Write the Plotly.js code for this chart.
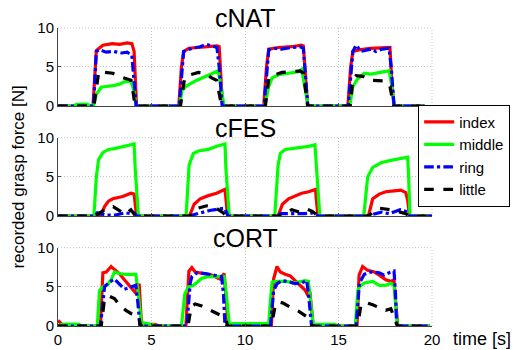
<!DOCTYPE html>
<html>
<head>
<meta charset="utf-8">
<script src="https://cdn.plot.ly/plotly-3.0.1.min.js"></script>
<style>html,body{margin:0;padding:0;background:#fff;}#chart{width:522px;height:350px;}</style>
</head>
<body>
<div id="chart"></div>
<script>
// ---- labels ----
var panelTitles = ["cNAT", "cFES", "cORT"];
var fingerNames = ["index", "middle", "ring", "little"];
var xTicks = [0, 5, 10, 15, 20];
var yTicks = [0, 5, 10];

// ---- cNAT ----
var natIdxT = [0,1.87,2.05,2.4,2.9,3.3,3.7,3.95,4.07,4.2, 6.46,6.6,6.72,7.0,7.5,8.0,8.5,8.62,8.72,8.8, 11.0,11.15,11.27,11.8,12.5,13.0,13.12,13.25,13.35, 15.5,15.65,15.77,16.1,16.7,17.4,17.75,17.85,17.97, 19.6];
var natIdxY = [0,0,7.1,7.8,8.0,7.9,8.1,8.0,7.0,0, 0,5,7.0,7.4,7.5,7.6,7.7,7.6,3,0, 0,5,7.3,7.5,7.6,7.8,7.7,3,0, 0,5,7.0,7.2,7.4,7.5,7.5,3,0, 0];
var natMidT = [0,0.8,1.0,1.5,1.7,1.9,2.05,2.31,2.58,2.95,3.28,3.55,3.9,4.05,4.18, 6.5,6.63,6.89,7.34,7.7,8.04,8.4,8.57,8.68,8.88, 11.06,11.27,11.45,11.8,12.33,12.86,13.03,13.15,13.38, 15.6,15.77,16.03,16.38,16.74,17.09,17.44,17.71,17.82,17.98, 19.6];
var natMidY = [0,0,0.2,0.25,0.1,0,1.5,2.4,2.5,2.6,2.8,3.1,3.2,2,0, 0,2.0,2.6,3.2,3.6,4.0,4.3,4.5,3,0, 0,2.5,3.6,4.0,4.2,4.4,4.7,3,0, 0,2.5,3.5,4.2,4.1,4.3,4.4,4.5,3,0, 0];
var natRingT = [0,1.9,2.05,2.22,2.58,2.95,3.4,3.7,3.95,4.08,4.18, 6.48,6.6,6.72,7.16,7.6,7.95,8.31,8.5,8.62,8.78, 11.02,11.15,11.27,11.6,11.95,12.5,12.95,13.12,13.25,13.36, 15.52,15.65,15.77,15.94,16.2,16.74,17.0,17.35,17.7,17.82,17.97, 19.6];
var natRingY = [0,0,7.0,7.2,6.9,7.0,6.8,6.9,6.5,3,0, 0,4,7.0,7.4,7.6,7.9,7.7,7.5,5,0, 0,4,7.2,7.4,7.3,7.5,7.6,7.4,3,0, 0,4,7.0,7.8,7.0,7.3,7.0,7.3,7.4,5,0, 0];
var natLitT = [0,1.92,2.18,2.58,2.93,3.28,3.63,3.9,4.0,4.12, 6.55,6.77,7.05,7.51,7.86,8.22,8.48,8.6,8.75, 11.09,11.27,11.45,11.98,12.5,12.95,13.12,13.35, 15.63,15.77,15.94,16.3,16.65,17.09,17.53,17.75,17.95, 19.6];
var natLitY = [0,0,4.4,4.3,4.2,3.8,3.5,3.3,2,0, 0,3.5,4.0,4.3,4.2,3.6,3.3,2,0, 0,3.5,3.9,4.3,4.4,4.5,4.2,0, 0,3.5,3.9,3.8,3.3,3.2,3.2,2.5,0, 0];

// ---- cFES ----
var fesIdxT = [0,2.27,2.49,2.7,2.93,3.2,3.46,3.9,4.07,4.2, 7.03,7.28,7.6,8.04,8.48,8.93,8.98,9.07, 11.77,12.0,12.33,12.68,13.03,13.4,13.77,13.82,13.9, 16.6,16.83,17.18,17.53,17.97,18.33,18.6,18.7,18.8, 20];
var fesIdxY = [0,0,1.2,1.9,2.2,2.3,2.5,2.9,2.8,0, 0,1.5,2.2,2.6,2.9,3.4,2.0,0, 0,1.5,2.2,2.6,2.9,3.1,3.4,2.0,0, 0,2.2,2.8,3.1,3.2,3.3,3.0,2.0,0, 0];
var fesMidT = [0,1.92,2.05,2.17,2.4,2.7,3.02,3.37,3.72,4.07,4.13,4.3, 6.85,7.01,7.24,7.51,8.04,8.48,8.93,8.98,9.16, 11.59,11.77,11.89,12.15,12.86,13.4,13.74,13.83,14.0, 16.35,16.56,16.83,17.27,17.8,18.33,18.7,18.75,18.82, 20];
var fesMidY = [0,0,5,7.2,8.1,8.5,8.6,8.8,9.0,9.2,6,0, 0,6.5,8.0,8.3,8.5,8.9,9.2,6,0, 0,6.5,8.0,8.5,8.7,8.9,9.1,6,0, 0,5.0,6.2,6.8,7.1,7.3,7.5,5,0, 0];
var fesRingT = [0,1.95,2.1,2.3,2.6,3.0,3.3,3.6,3.9,4.07,4.2, 7.0,7.3,7.6,8.1,8.6,8.9,9.1, 11.7,11.9,12.3,12.7,13.2,13.6,13.9, 16.5,16.8,17.3,17.7,18.3,18.6,18.8, 20];
var fesRingY = [0,0,0.4,0.3,0.1,0.1,0.3,0.4,0.3,0.4,0, 0,0.2,0.4,0.7,0.9,1.0,0, 0,0.3,0.3,0.2,0.3,0.4,0, 0,0.2,0.5,0.3,0.8,0.6,0, 0];
var fesLitT = [0,2.0,2.3,2.6,2.95,3.3,3.6,3.9,4.15, 7.05,7.3,7.5,7.95,8.4,8.84,9.0, 11.8,12.1,12.5,12.9,13.3,13.6,13.9, 16.6,16.9,17.2,17.8,18.3,18.6,18.8, 20];
var fesLitY = [0,0,0.5,1.0,1.2,0.6,0.2,0.8,0, 0,0.7,1.0,1.3,1.1,0.4,0, 0,0.3,0.8,0.5,0.9,0.6,0, 0,0.6,1.0,0.8,0.5,0.3,0, 0];

// ---- cORT ----
var ortIdxT = [0,0.15,0.3, 2.27,2.4,2.58,2.84,3.02,3.28,3.55,3.85,4.16,4.34,4.47, 4.6,5.2,5.4, 6.84,7.0,7.16,7.34,7.69,8.22,8.48,8.66,8.89,9.1, 11.41,11.53,11.71,11.89,12.15,12.42,12.68,12.95,13.21,13.39,13.47,13.65, 15.99,16.1,16.29,16.56,16.91,17.18,17.53,17.8,17.97,18.06,18.17, 19.9];
var ortIdxY = [0.7,0.3,0, 0,6.8,6.9,7.6,7.2,6.7,5.9,5.0,4.2,5.4,0, 0.2,0.2,0, 0,7.0,7.45,6.9,6.7,6.5,6.2,6.0,6.7,0, 0,6.0,7.6,6.9,6.6,6.4,5.8,5.2,4.6,3.8,4.4,0, 0,6.5,7.6,7.1,6.9,6.5,5.9,5.7,5.9,3,0, 0];
var ortMidT = [0,0.2,0.5,1.1,1.3, 2.1,2.22,2.4,2.66,2.84,3.02,3.28,3.63,4.16,4.3,4.47, 4.56,4.9,5.2,5.4, 6.6,6.78,6.98,7.25,7.69,8.04,8.66,8.89,9.0,9.17, 9.3,9.8,10.3,10.8, 11.27,11.35,11.45,11.62,12.15,12.68,13.21,13.39,13.5,13.65, 13.8,14.8,15.0, 15.9,16.03,16.12,16.38,16.83,17.18,17.53,17.8,17.97,18.15, 19.9];
var ortMidY = [0,0.2,0.25,0.2,0, 0,4.5,5.0,5.3,5.9,6.9,6.7,6.6,6.6,4,0, 0.4,0.2,0.1,0, 0,4.1,5.0,5.2,6.1,6.3,6.3,6.3,4,0, 0.3,0.3,0.3,0.3, 0.3,3,5.6,5.7,5.7,5.5,5.8,5.7,3,0, 0.2,0.2,0, 0,4.5,5.0,5.5,5.7,5.2,5.2,5.45,5.2,0, 0];
var ortRingT = [0,2.27,2.49,2.75,3.02,3.28,3.55,3.81,4.07,4.16,4.27,4.38, 6.89,7.07,7.16,7.43,7.87,8.4,8.75,8.85,8.93, 11.36,11.53,11.71,11.98,12.42,12.68,13.03,13.3,13.4,13.56, 15.94,16.12,16.38,16.74,17.18,17.44,17.71,17.97,18.05,18.11, 19.9];
var ortRingY = [0,0,5.0,5.6,6.0,5.3,4.7,4.9,5.1,5.2,3,0, 0,5.5,6.3,6.8,6.7,6.5,6.3,4,0, 0,4.5,5.4,5.8,5.6,5.4,5.5,5.8,4,0, 0,5.5,6.6,6.9,6.8,6.5,6.8,7.0,4,0, 0];
var ortLitT = [0,2.31,2.49,2.75,3.02,3.28,3.63,3.9,4.16,4.3,4.42, 6.95,7.13,7.34,7.69,8.13,8.57,8.84,8.98,9.07, 11.4,11.62,11.8,12.06,12.42,12.86,13.3,13.42,13.6, 16.03,16.2,16.47,16.83,17.18,17.53,17.8,17.97,18.15, 19.9];
var ortLitY = [0,0,3.5,3.8,3.5,2.7,2.0,1.6,1.4,1.3,0, 0,2.5,2.8,2.55,2.0,1.5,1.2,0.8,0, 0,2.6,3.1,2.9,2.4,1.9,1.2,0.8,0, 0,2.7,3.0,2.7,2.4,2.0,2.2,1.2,0, 0];

// ---- build ----
var styles = [
  {color: "#ff0000", dash: "solid"},
  {color: "#00ff00", dash: "solid"},
  {color: "#0000ff", dash: "dashdot"},
  {color: "#000000", dash: "dash"}
];
var panels = [
  [[natIdxT, natIdxY], [natMidT, natMidY], [natRingT, natRingY], [natLitT, natLitY]],
  [[fesIdxT, fesIdxY], [fesMidT, fesMidY], [fesRingT, fesRingY], [fesLitT, fesLitY]],
  [[ortIdxT, ortIdxY], [ortMidT, ortMidY], [ortRingT, ortRingY], [ortLitT, ortLitY]]
];
var axSuffix = ["", "2", "3"];
var traces = [];
panels.forEach(function (series, p) {
  series.forEach(function (s, k) {
    traces.push({
      x: s[0], y: s[1], type: "scatter", mode: "lines",
      name: fingerNames[k], legendgroup: fingerNames[k], showlegend: p === 0,
      xaxis: "x" + axSuffix[p], yaxis: "y" + axSuffix[p],
      line: {color: styles[k].color, dash: styles[k].dash, width: 3.2}
    });
  });
});

var FONT = "Liberation Sans, Arial, Helvetica, sans-serif";
var GRID = "#c4c4c4";
var GRIDDASH = "1px,2px";
function xa(showLabels, anchor) {
  return {
    anchor: anchor, domain: [0, 1], range: [0, 20], tickvals: xTicks, ticktext: xTicks.map(String),
    showticklabels: showLabels, ticks: "inside", ticklen: 3, tickcolor: "#444",
    showline: true, linecolor: "#444", linewidth: 1, mirror: false,
    showgrid: true, gridcolor: GRID, griddash: GRIDDASH, gridwidth: 1,
    zeroline: false, tickfont: {size: 15, color: "#000", family: FONT}, fixedrange: true
  };
}
function ya(domain, anchor) {
  return {
    anchor: anchor, domain: domain, range: [0, 10], tickvals: yTicks, ticktext: yTicks.map(String),
    ticks: "inside", ticklen: 3, tickcolor: "#444",
    showline: true, linecolor: "#444", linewidth: 1, mirror: false,
    showgrid: true, gridcolor: GRID, griddash: GRIDDASH, gridwidth: 1,
    zeroline: false, tickfont: {size: 15, color: "#000", family: FONT}, fixedrange: true
  };
}

var annotations = panelTitles.map(function (t, p) {
  return {
    text: t, xref: "x" + axSuffix[p] + " domain", yref: "y" + axSuffix[p] + " domain",
    x: 0.5, y: 1, xanchor: "center", yanchor: "bottom", yshift: -6, showarrow: false,
    font: {size: 25, color: "#000", family: FONT}
  };
});
annotations.push({
  text: "recorded grasp force [N]", xref: "paper", yref: "paper", x: -0.108, y: 0.5,
  xanchor: "center", yanchor: "middle", textangle: -90, showarrow: false,
  font: {size: 17, color: "#000", family: FONT}
});
annotations.push({
  text: "time [s]", xref: "paper", yref: "paper", x: 1.05, y: -0.0436,
  xanchor: "left", yanchor: "middle", showarrow: false,
  font: {size: 18, color: "#000", family: FONT}
});

// dotted box edges (top and right) of each panel, like the grid
var shapes = [];
axSuffix.forEach(function (s) {
  shapes.push({type: "line", xref: "x" + s + " domain", yref: "y" + s + " domain", x0: 0, x1: 1, y0: 1, y1: 1,
    line: {color: GRID, width: 1, dash: GRIDDASH}, layer: "below"});
  shapes.push({type: "line", xref: "x" + s + " domain", yref: "y" + s + " domain", x0: 1, x1: 1, y0: 0, y1: 1,
    line: {color: GRID, width: 1, dash: GRIDDASH}, layer: "below"});
});

var layout = {
  width: 522, height: 350,
  margin: {l: 58, r: 86, t: 28, b: 24, pad: 0},
  paper_bgcolor: "#fff", plot_bgcolor: "#fff",
  font: {family: FONT, color: "#000"},
  xaxis: xa(false, "y"), xaxis2: xa(false, "y2"), xaxis3: xa(true, "y3"),
  yaxis: ya([0.7383, 1], "x"), yaxis2: ya([0.3691, 0.6319], "x2"), yaxis3: ya([0, 0.2628], "x3"),
  showlegend: true,
  legend: {
    x: 0.963, y: 0.743, xanchor: "left", yanchor: "top",
    bgcolor: "#fff", bordercolor: "#000", borderwidth: 1,
    font: {size: 15, color: "#000", family: FONT}, itemwidth: 30, tracegroupgap: 0
  },
  annotations: annotations,
  shapes: shapes
};

Plotly.newPlot("chart", traces, layout, {displayModeBar: false, staticPlot: true});
</script>
</body>
</html>
